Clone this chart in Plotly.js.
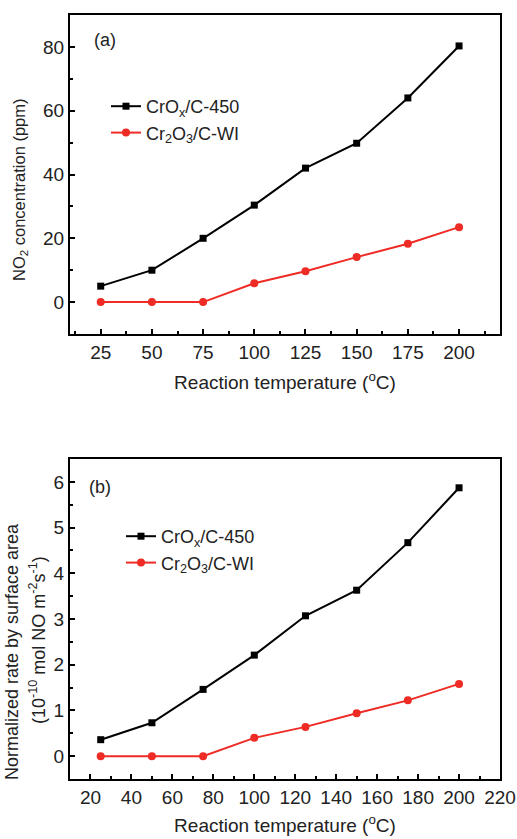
<!DOCTYPE html>
<html>
<head>
<meta charset="utf-8">
<script src="https://cdn.plot.ly/plotly-3.0.1.min.js"></script>
<style>html,body{margin:0;padding:0;background:#fff;}#chart{width:517px;height:839px;}</style>
</head>
<body>
<div id="chart"></div>
<script>
// Data
var temperatures = [25, 50, 75, 100, 125, 150, 175, 200];
var no2_CrOx = [5, 10, 20, 30.4, 42, 49.8, 64, 80.3];
var no2_Cr2O3 = [0, 0, 0, 5.9, 9.7, 14.1, 18.3, 23.5];
var rate_CrOx = [0.36, 0.73, 1.46, 2.21, 3.07, 3.63, 4.67, 5.87];
var rate_Cr2O3 = [0, 0, 0, 0.40, 0.64, 0.94, 1.22, 1.58];
var nameA = 'CrO<sub>x</sub>/C-450';
var nameB = 'Cr<sub>2</sub>O<sub>3</sub>/C-WI';
var xTitle = 'Reaction temperature (<sup>o</sup>C)';
var yTitleA = 'NO<sub>2</sub> concentration (ppm)';
var yTitleB1 = 'Normalized rate by surface area';
var yTitleB2 = '(10<sup>-10</sup> mol NO m<sup>-2</sup>s<sup>-1</sup>)';

var W = 517, H = 839;
function px(x){ return x / W; }
function py(y){ return 1 - y / H; }

var font = 'Liberation Sans, Arial, sans-serif';
var black = '#000000', red = '#ee2b24', textCol = '#222';

var traces = [
  {x: temperatures, y: no2_CrOx, name: nameA, xaxis: 'x', yaxis: 'y', mode: 'lines+markers',
   line: {color: black, width: 2}, marker: {symbol: 'square', size: 7, color: black}, legend: 'legend'},
  {x: temperatures, y: no2_Cr2O3, name: nameB, xaxis: 'x', yaxis: 'y', mode: 'lines+markers',
   line: {color: red, width: 2}, marker: {symbol: 'circle', size: 8, color: red}, legend: 'legend'},
  {x: temperatures, y: rate_CrOx, name: nameA, xaxis: 'x2', yaxis: 'y2', mode: 'lines+markers',
   line: {color: black, width: 2}, marker: {symbol: 'square', size: 7, color: black}, legend: 'legend2'},
  {x: temperatures, y: rate_Cr2O3, name: nameB, xaxis: 'x2', yaxis: 'y2', mode: 'lines+markers',
   line: {color: red, width: 2}, marker: {symbol: 'circle', size: 8, color: red}, legend: 'legend2'}
];

var axisCommon = {
  showline: true, linecolor: '#000', linewidth: 2, mirror: true,
  ticks: 'inside', ticklen: 5, tickwidth: 1.5, tickcolor: '#000',
  showgrid: false, zeroline: false,
  tickfont: {family: font, size: 19, color: textCol},
  fixedrange: true
};
function ax(extra){ return Object.assign({}, axisCommon, extra); }
function minor(d){ return {dtick: d, tick0: 0, ticks: 'inside', ticklen: 3, tickcolor: '#000', tickwidth: 1.5}; }

var layout = {
  width: W, height: H,
  margin: {l: 0, r: 0, t: 0, b: 0},
  paper_bgcolor: '#fff', plot_bgcolor: '#fff',
  font: {family: font, size: 18, color: textCol},
  xaxis: ax({domain: [px(70), px(500)], anchor: 'y', range: [10, 220], tick0: 0, dtick: 25, minor: minor(12.5),
    title: {text: xTitle, font: {family: font, size: 19, color: textCol}, standoff: 14}}),
  yaxis: ax({domain: [py(334), py(15)], anchor: 'x', range: [-10, 90], tick0: 0, dtick: 20, minor: minor(10)}),
  xaxis2: ax({domain: [px(70), px(500)], anchor: 'y2', range: [10, 220], tick0: 0, dtick: 20, minor: minor(10),
    title: {text: xTitle, font: {family: font, size: 19, color: textCol}, standoff: 12}}),
  yaxis2: ax({domain: [py(779), py(459)], anchor: 'x2', range: [-0.5, 6.5], tick0: 0, dtick: 1, minor: minor(0.5)}),
  legend: {x: px(106), y: py(88), xanchor: 'left', yanchor: 'top', bgcolor: 'rgba(0,0,0,0)',
    font: {family: font, size: 18, color: textCol}, tracegroupgap: 0},
  legend2: {x: px(121), y: py(518), xanchor: 'left', yanchor: 'top', bgcolor: 'rgba(0,0,0,0)',
    font: {family: font, size: 18, color: textCol}, tracegroupgap: 0},
  showlegend: true,
  annotations: [
    {text: '(a)', xref: 'paper', yref: 'paper', x: px(92), y: py(40), xanchor: 'left', yanchor: 'middle', showarrow: false, font: {family: font, size: 18, color: textCol}},
    {text: '(b)', xref: 'paper', yref: 'paper', x: px(87), y: py(487), xanchor: 'left', yanchor: 'middle', showarrow: false, font: {family: font, size: 18, color: textCol}},
    {text: yTitleA, xref: 'paper', yref: 'paper', x: px(20), y: py(190), xanchor: 'center', yanchor: 'middle', textangle: -90, showarrow: false, font: {family: font, size: 16.5, color: textCol}},
    {text: yTitleB1, xref: 'paper', yref: 'paper', x: px(12), y: py(652), xanchor: 'center', yanchor: 'middle', textangle: -90, showarrow: false, font: {family: font, size: 18, color: textCol}},
    {text: yTitleB2, xref: 'paper', yref: 'paper', x: px(37), y: py(640), xanchor: 'center', yanchor: 'middle', textangle: -90, showarrow: false, font: {family: font, size: 18, color: textCol}}
  ]
};

Plotly.newPlot('chart', traces, layout, {displayModeBar: false});
</script>
</body>
</html>
